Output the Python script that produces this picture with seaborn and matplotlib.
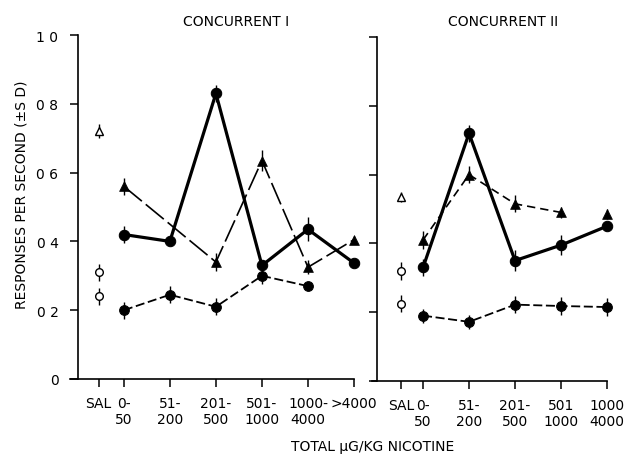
import numpy as np
import pandas as pd
import matplotlib
matplotlib.use("Agg")
import matplotlib.pyplot as plt
import seaborn as sns

sns.set_style("ticks")
plt.rcParams['font.family'] = ['DejaVu Sans']
plt.rcParams['text.color'] = 'black'
plt.rcParams['xtick.color'] = 'black'
plt.rcParams['ytick.color'] = 'black'
plt.rcParams['axes.labelcolor'] = 'black'

# ---------------- data ----------------
left_cats = ["SAL", "0-\n50", "51-\n200", "201-\n500", "501-\n1000", "1000-\n4000", ">4000"]
right_cats = ["SAL", "0-\n50", "51-\n200", "201-\n500", "501\n1000", "1000\n4000"]

# Concurrent I (dose groups 0-50 ... >4000)
left_solid = [0.42, 0.40, 0.83, 0.33, 0.435, 0.337]
left_solid_sd = [0.025, 0.01, 0.025, 0.015, 0.035, 0.0]
left_tri = [0.56, np.nan, 0.34, 0.635, 0.325, 0.405]
left_tri_sd = [0.025, 0.0, 0.025, 0.03, 0.02, 0.01]
left_low = [0.20, 0.245, 0.21, 0.30, 0.27, np.nan]
left_low_sd = [0.025, 0.025, 0.025, 0.025, 0.0, 0.0]
left_sal_tri, left_sal_tri_sd = 0.72, 0.02
left_sal_circ = [0.31, 0.24]
left_sal_circ_sd = [0.025, 0.025]

# Concurrent II (dose groups 0-50 ... 1000-4000)
right_solid = [0.33, 0.72, 0.35, 0.395, 0.45]
right_solid_sd = [0.025, 0.025, 0.03, 0.03, 0.01]
right_tri = [0.41, 0.60, 0.515, 0.49, 0.485]
right_tri_sd = [0.025, 0.025, 0.025, 0.015, 0.015]
right_low = [0.19, 0.172, 0.222, 0.218, 0.215]
right_low_sd = [0.02, 0.02, 0.025, 0.025, 0.025]
right_sal_tri, right_sal_tri_sd = 0.535, 0.015
right_sal_circ = [0.32, 0.225]
right_sal_circ_sd = [0.025, 0.025]

yticks = [0, 0.2, 0.4, 0.6, 0.8, 1.0]
ytick_labels = ["0", "0 2", "0 4", "0 6", "0 8", "1 0"]

# ---------------- figure ----------------
W, H = 637, 456
fig = plt.figure(figsize=(W / 100, H / 100), dpi=100)
axL = fig.add_axes([70 / W, 76 / H, (354 - 70) / W, 344 / H])
axR = fig.add_axes([372 / W, 74 / H, (607 - 372) / W, 344 / H])

K = "black"
FS = 10


def draw(ax, sal_pos, solid, solid_sd, tri, tri_sd, low, low_sd,
         sal_tri, sal_tri_sd, sal_circ, sal_circ_sd, tri_line_n, tri_ls):
    n = len(solid)
    xs = np.arange(n)
    # thick solid series
    d = pd.DataFrame({"x": xs, "y": solid})
    sns.lineplot(data=d, x="x", y="y", ax=ax, color=K, lw=2.3, marker="o",
                 markersize=7.5, markeredgecolor=K, sort=False, clip_on=False)
    ax.errorbar(xs, solid, yerr=solid_sd, fmt="none", ecolor=K, elinewidth=1.0, capsize=0, clip_on=False)
    # triangle series
    t = pd.DataFrame({"x": xs, "y": tri}).dropna()
    tl = t[t.x < tri_line_n]
    sns.lineplot(data=tl, x="x", y="y", ax=ax, color=K, lw=1.2, linestyle=tri_ls,
                 sort=False, clip_on=False)
    sns.scatterplot(data=t, x="x", y="y", ax=ax, color=K, marker="^", s=50,
                    edgecolor=K, linewidth=0.5, clip_on=False, zorder=5)
    ax.errorbar(xs, tri, yerr=tri_sd, fmt="none", ecolor=K, elinewidth=1.0, capsize=0, clip_on=False)
    # lower dashed series
    l = pd.DataFrame({"x": xs, "y": low}).dropna()
    sns.lineplot(data=l, x="x", y="y", ax=ax, color=K, lw=1.3, linestyle=(0, (5, 2)),
                 marker="o", markersize=7, markeredgecolor=K, sort=False, clip_on=False)
    ax.errorbar(xs, low, yerr=low_sd, fmt="none", ecolor=K, elinewidth=1.0, capsize=0, clip_on=False)
    # saline open markers
    ax.errorbar([sal_pos], [sal_tri], yerr=[sal_tri_sd], fmt="^", mfc="white", mec=K,
                ecolor=K, ms=5.5, mew=1.0, elinewidth=1.0, capsize=0)
    ax.errorbar([sal_pos] * 2, sal_circ, yerr=sal_circ_sd, fmt="o", mfc="white", mec=K,
                ecolor=K, ms=5.5, mew=1.0, elinewidth=1.0, capsize=0)


draw(axL, -0.55, left_solid, left_solid_sd, left_tri, left_tri_sd, left_low, left_low_sd,
     left_sal_tri, left_sal_tri_sd, left_sal_circ, left_sal_circ_sd, 6, (0, (14, 3)))
draw(axR, -0.48, right_solid, right_solid_sd, right_tri, right_tri_sd, right_low, right_low_sd,
     right_sal_tri, right_sal_tri_sd, right_sal_circ, right_sal_circ_sd, 4, (0, (5, 3)))

for ax, sal_pos, cats, xmin, xmax in [(axL, -0.55, left_cats, -1.17, 5.0),
                                      (axR, -0.48, right_cats, -1.11, 4.0)]:
    ax.set_xlim(xmin, xmax)
    ax.set_ylim(0, 1.0)
    ax.spines["left"].set_position(("data", -1.0))
    ax.spines["top"].set_visible(False)
    ax.spines["right"].set_visible(False)
    for s in ("left", "bottom"):
        ax.spines[s].set_linewidth(1.2)
        ax.spines[s].set_color(K)
    pos = [sal_pos] + list(range(len(cats) - 1))
    ax.set_xticks(pos)
    ax.set_xticklabels(cats, fontsize=FS, va="top", ha="center", linespacing=1.2)
    ax.set_yticks(yticks)
    ax.tick_params(axis="both", direction="out", length=6, width=1.1, color=K, pad=6)
    ax.set_xlabel("")
    ax.set_ylabel("")

axL.set_yticklabels(ytick_labels, fontsize=FS)
axR.set_yticklabels([])
axL.tick_params(axis="y", pad=8)

fig.text(236 / W, 1 - 22 / H, "CONCURRENT I", ha="center", va="center", fontsize=FS)
fig.text(503 / W, 1 - 22 / H, "CONCURRENT II", ha="center", va="center", fontsize=FS)
fig.text(22 / W, 1 - 195 / H, "RESPONSES PER SECOND (±S D)", ha="center", va="center",
         rotation=90, fontsize=FS)
fig.text(373 / W, 1 - 447 / H, "TOTAL \u00b5G/KG NICOTINE", ha="center", va="center", fontsize=FS)

fig.savefig("out.png", dpi=100, facecolor="white")
